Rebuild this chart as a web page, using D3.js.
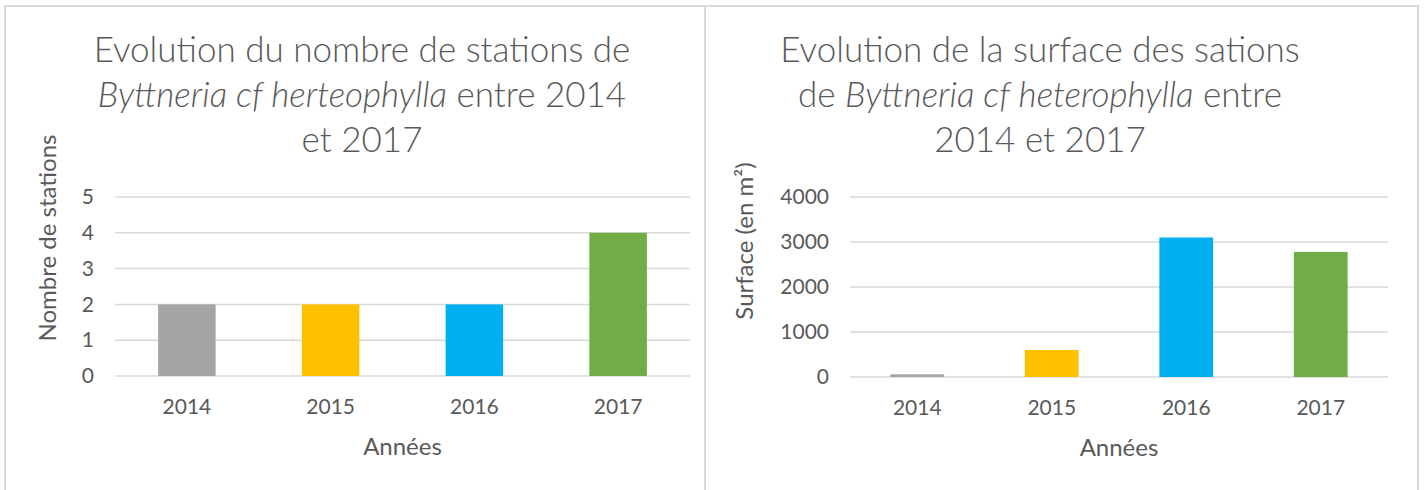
<!DOCTYPE html>
<html>
<head>
<meta charset="utf-8">
<script src="https://cdn.jsdelivr.net/npm/d3@7"></script>
<style>
body { margin: 0; background: #fff; }
text { font-family: Lato, "Open Sans", sans-serif; fill: #595959; }
</style>
</head>
<body>
<div id="chart-area"></div>
<script>
// data
var years = ["2014", "2015", "2016", "2017"];
var stationCounts = [2, 2, 2, 4];
var surfaces = [60, 600, 3100, 2780];
var barColors = ["#a5a5a5", "#ffc000", "#00b0f0", "#70ad47"];
var stationTicks = [0, 1, 2, 3, 4, 5];
var surfaceTicks = [0, 1000, 2000, 3000, 4000];

var width = 1424;
var height = 490;

var svg = d3.select("#chart-area").append("svg")
.attr("width", width)
.attr("height", height)

// panel frames
svg.append("rect")
.attr("x", 5).attr("y", 6)
.attr("width", 700).attr("height", 500)
.attr("fill", "none").attr("stroke", "#d9d9d9").attr("stroke-width", 2)

svg.append("rect")
.attr("x", 705).attr("y", 6)
.attr("width", 713).attr("height", 500)
.attr("fill", "none").attr("stroke", "#d9d9d9").attr("stroke-width", 2)

var drawPanel = function(opts) {
	var g = svg.append("g")

	// title
	var title = g.append("text")
	.attr("text-anchor", "middle")
	.attr("font-size", "35px")
	.style("font-weight", 300)

	opts.title.forEach((line, i) => {
		var t = title.append("tspan")
		.attr("x", opts.titleX)
		.attr("y", 62 + i * 45)
		line.forEach(part => {
			t.append("tspan")
			.style("font-style", part[1] ? "italic" : "normal")
			.text(part[0])
		})
	})

	var x = d3.scaleBand()
	.domain(years)
	.range([opts.left, opts.right])
	.paddingInner(0.6)
	.paddingOuter(0.3)

	var y = d3.scaleLinear()
	.domain(opts.domain)
	.range([opts.bottom, opts.top])

	// gridlines
	g.append("g")
	.selectAll("line")
	.data(opts.ticks)
	.enter().append("line")
	.attr("x1", opts.left)
	.attr("x2", opts.right)
	.attr("y1", d => y(d))
	.attr("y2", d => y(d))
	.attr("stroke", "#d9d9d9")
	.attr("stroke-width", 1.5)

	// y axis
	var yAxis = g.append("g")
	.attr("transform", "translate(" + (opts.left - 21) + ",0)")
	.call(d3.axisLeft(y).tickValues(opts.ticks).tickFormat(d3.format("d")).tickSize(0).tickPadding(0))
	yAxis.select(".domain").remove()
	yAxis.selectAll("text")
	.attr("font-size", "21px")
	.style("font-family", "Lato, sans-serif")
	.attr("fill", "#595959")

	// bars
	g.selectAll("rect.bar")
	.data(opts.values)
	.enter().append("rect")
	.attr("class", "bar")
	.attr("x", (d, i) => x(years[i]))
	.attr("y", d => y(d))
	.attr("width", x.bandwidth())
	.attr("height", d => y(0) - y(d))
	.attr("fill", (d, i) => barColors[i])

	// x axis
	var xAxis = g.append("g")
	.attr("transform", "translate(0," + (opts.bottom + 23) + ")")
	.call(d3.axisBottom(x).tickSize(0).tickPadding(0))
	xAxis.select(".domain").remove()
	xAxis.selectAll("text")
	.attr("font-size", "21px")
	.style("font-family", "Lato, sans-serif")
	.attr("fill", "#595959")

	// axis labels
	g.append("text")
	.attr("x", (opts.left + opts.right) / 2)
	.attr("y", opts.bottom + 79)
	.attr("font-size", "24px")
	.attr("text-anchor", "middle")
	.text("Années")

	g.append("text")
	.attr("transform", "translate(" + opts.yLabelX + "," + opts.yLabelY + ") rotate(-90)")
	.attr("font-size", "24px")
	.attr("text-anchor", "middle")
	.text(opts.yLabel)
}

drawPanel({
	title: [
		[["Evolution du nombre de stations de", false]],
		[["Byttneria cf herteophylla", true], [" entre 2014", false]],
		[["et 2017", false]]
	],
	titleX: 362,
	left: 115, right: 690, top: 197, bottom: 376,
	domain: [0, 5], ticks: stationTicks, values: stationCounts,
	yLabel: "Nombre de stations", yLabelX: 56, yLabelY: 238
})

drawPanel({
	title: [
		[["Evolution de la surface des sations", false]],
		[["de ", false], ["Byttneria cf heterophylla", true], [" entre", false]],
		[["2014 et 2017", false]]
	],
	titleX: 1040,
	left: 850, right: 1388, top: 197, bottom: 377,
	domain: [0, 4000], ticks: surfaceTicks, values: surfaces,
	yLabel: "Surface (en m²)", yLabelX: 753, yLabelY: 241
})
</script>
</body>
</html>
